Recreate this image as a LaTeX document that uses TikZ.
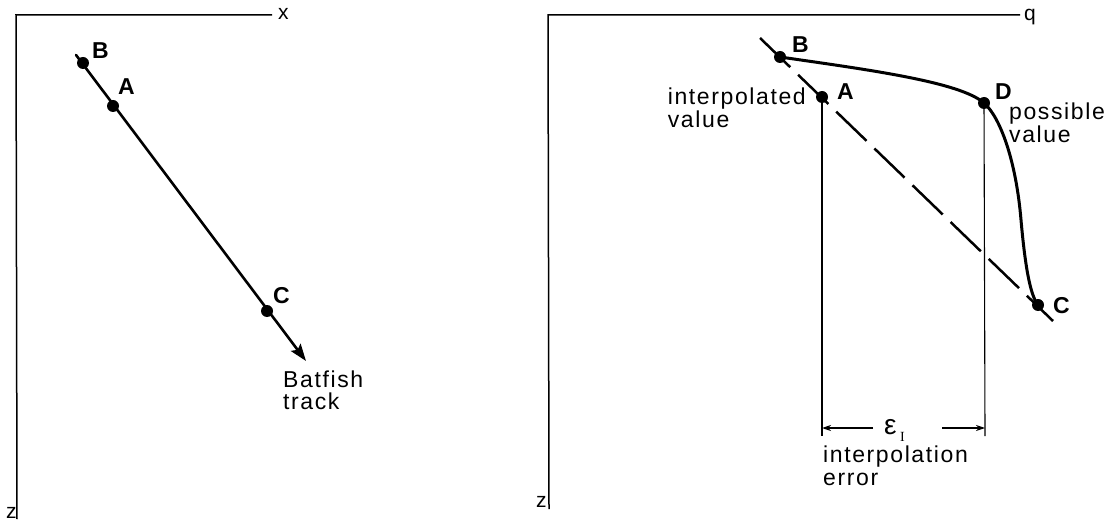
\documentclass[tikz,border=0pt]{standalone}
\usepackage{fontspec}
\setmainfont{Liberation Sans}
\newfontfamily\plotfont[LetterSpace=7]{Liberation Sans}
\newfontfamily\subfont{Liberation Serif}
\usetikzlibrary{arrows.meta}

\begin{document}
\begin{tikzpicture}[x=1pt,y=-1pt,
  axis/.style={line width=1.5pt},
  track/.style={line width=2.6pt},
  profile/.style={line width=3pt, line cap=round},
  guide/.style={line width=1.1pt},
  dot/.style={circle, fill=black, inner sep=0pt, minimum size=12pt},
  ptlabel/.style={font=\fontsize{23}{23}\selectfont\bfseries, inner sep=0pt},
  txt/.style={font=\plotfont\fontsize{23}{22.5}\selectfont, inner sep=0pt, align=left},
  axlabel/.style={font=\fontsize{21}{22}\selectfont, inner sep=0pt}]
\useasboundingbox (0,0) rectangle (1115,521);

% ---------- left panel: x-z section with the track ----------
\coordinate (xend) at (272,15);
\coordinate (orig1) at (16,15);
\coordinate (zend1) at (17,519);
\draw[axis] (xend) -- (orig1) -- (zend1);
\node[axlabel, anchor=base west] (xlab) at (278,20) {x};
\node[axlabel, anchor=base west] (zlab1) at (6,518) {z};

\coordinate (trackstart) at (76,55);
\coordinate (trackend) at (306,361);
\draw[track, line cap=round, -{Stealth[length=17pt,width=12pt,inset=3pt]}] (trackstart) -- (trackend);
\node[dot] (B1) at (83,63) {};
\node[dot] (A1) at (113,106) {};
\node[dot] (C1) at (267,311) {};
\node[ptlabel, anchor=base west] (B1lab) at (92,59) {B};
\node[ptlabel, anchor=base west] (A1lab) at (118,95) {A};
\node[ptlabel, anchor=base west] (C1lab) at (273,303) {C};
% base anchor of a two-line node sits on its last line
\node[txt, anchor=base west] (batfish) at (283,409.5) {Batfish\\track};

% ---------- right panel: q-z profile ----------
\coordinate (qend) at (1020,15);
\coordinate (orig2) at (548,15);
\coordinate (zend2) at (549,509);
\draw[axis] (qend) -- (orig2) -- (zend2);
\node[axlabel, anchor=base west] (qlab) at (1024,21) {q};
\node[axlabel, anchor=base west] (zlab2) at (536,507) {z};

% straight-line interpolation between B and C
\coordinate (lerpstart) at (760,38);
\coordinate (lerpend) at (1053,321);
\draw[line width=2.5pt, dash pattern=on 42pt off 11pt] (lerpstart) -- (lerpend);

\node[dot] (B2) at (780,57) {};
\node[dot] (A2) at (822,97) {};
\node[dot] (D2) at (984,103) {};
\node[dot] (C2) at (1038,305) {};

% a possible true profile through B, D and C
\draw[profile] (B2.center) .. controls (870,70) and (960,82) .. (D2.center)
  .. controls (1000,117) and (1016,160) .. (1021,220)
  .. controls (1025,265) and (1030,295) .. (C2.center);

\node[ptlabel, anchor=base west] (B2lab) at (792,53) {B};
\node[ptlabel, anchor=base west] (A2lab) at (837,100) {A};
\node[ptlabel, anchor=base west] (D2lab) at (995,100) {D};
\node[ptlabel, anchor=base west] (C2lab) at (1053,313) {C};

% the east edge of this node is the end of its longer first line
\node[txt, anchor=base east] (interp) at (806,127.5) {interpolated\\value};
\node[txt, anchor=base west] (possible) at (1009,142.5) {possible\\value};

% guides down to the error bar
\coordinate (Afoot) at (822,436);
\coordinate (Dfoot) at (985,436);
\draw[guide] (A2.center) -- (Afoot);
\draw[guide] (D2.center) -- (Dfoot);

\coordinate (barL) at (822,428);
\coordinate (barR) at (985,428);
\coordinate (barLin) at (873,428);
\coordinate (barRin) at (942,428);
\draw[guide, -{Stealth[length=9pt,width=6pt]}] (barLin) -- (barL);
\draw[guide, -{Stealth[length=9pt,width=6pt]}] (barRin) -- (barR);
\node[font=\fontsize{28}{28}\selectfont, inner sep=0pt, anchor=base west] (eps) at (884,434) {ε};
\node[font=\subfont\fontsize{14}{14}\selectfont, inner sep=0pt, anchor=base west] (epssub) at (900,441) {I};
\node[txt, anchor=base west] (errlab) at (823,485) {interpolation\\error};
\end{tikzpicture}
\end{document}
